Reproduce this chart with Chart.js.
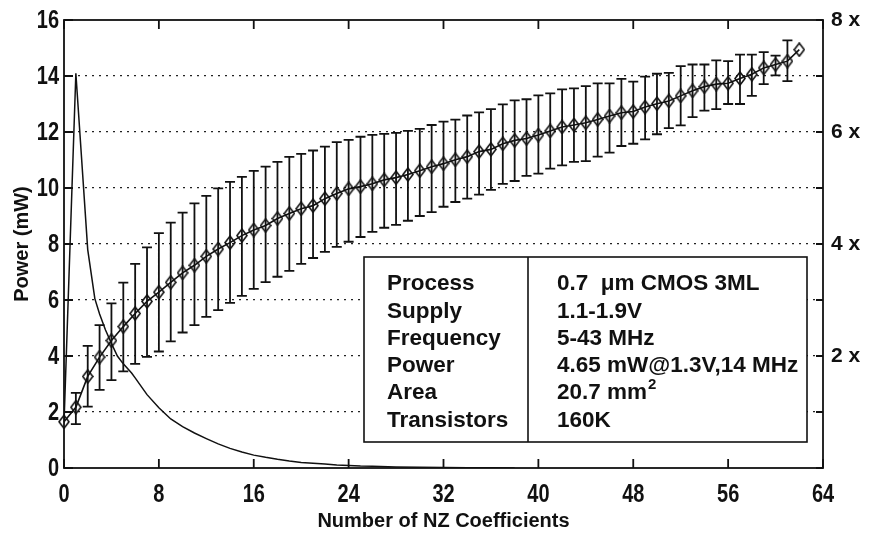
<!DOCTYPE html>
<html>
<head>
<meta charset="utf-8">
<title>Power vs number of NZ coefficients</title>
<script src="https://cdn.jsdelivr.net/npm/chart.js@4.4.1/dist/chart.umd.min.js"></script>
<style>
  html, body { margin: 0; padding: 0; background: #fff; }
  #chart { display: block; }
</style>
</head>
<body>
<canvas id="chart" width="880" height="535"></canvas>
<script>
const SANS = '"Liberation Sans", Arial, Helvetica, sans-serif';
const INK = "#111";

// number of non-zero coefficients (x of the diamond series)
const coeffCount = [
  0, 1, 2, 3, 4, 5, 6, 7, 8, 9, 10, 11, 12, 13, 14, 15, 16, 17, 18, 19, 20,
  21, 22, 23, 24, 25, 26, 27, 28, 29, 30, 31, 32, 33, 34, 35, 36, 37, 38, 39, 40,
  41, 42, 43, 44, 45, 46, 47, 48, 49, 50, 51, 52, 53, 54, 55, 56, 57, 58, 59, 60,
  61, 62,
];

// mean power (mW) and the spread shown by the error bars
const powerMean = [
  1.65, 2.17, 3.27, 3.96, 4.55, 5.05, 5.52, 5.95, 6.28, 6.63,
  6.97, 7.24, 7.56, 7.82, 8.05, 8.30, 8.50, 8.66, 8.91, 9.09,
  9.26, 9.37, 9.62, 9.80, 9.97, 10.05, 10.15, 10.29, 10.37, 10.48,
  10.62, 10.76, 10.87, 11.01, 11.12, 11.30, 11.38, 11.58, 11.70, 11.77,
  11.89, 12.04, 12.18, 12.25, 12.33, 12.45, 12.57, 12.69, 12.73, 12.89,
  13.01, 13.11, 13.29, 13.47, 13.62, 13.71, 13.74, 13.91, 14.06, 14.29,
  14.41, 14.53, 14.94,
];
const powerHigh = [
  1.65, 2.68, 4.36, 5.10, 5.88, 6.62, 7.29, 7.88, 8.39, 8.76,
  9.12, 9.45, 9.72, 9.99, 10.22, 10.40, 10.61, 10.76, 10.93, 11.11,
  11.22, 11.34, 11.48, 11.64, 11.72, 11.83, 11.90, 11.93, 11.97, 12.04,
  12.11, 12.25, 12.37, 12.44, 12.59, 12.70, 12.82, 12.99, 13.13, 13.17,
  13.31, 13.38, 13.52, 13.56, 13.64, 13.74, 13.74, 13.90, 13.80, 13.98,
  14.08, 14.11, 14.35, 14.41, 14.41, 14.56, 14.53, 14.76, 14.76, 14.85,
  14.73, 15.27, 14.94,
];
const powerLow = [
  1.65, 1.57, 2.19, 2.79, 3.14, 3.45, 3.72, 3.97, 4.16, 4.52,
  4.84, 5.10, 5.40, 5.64, 5.90, 6.15, 6.40, 6.64, 6.83, 7.04,
  7.29, 7.50, 7.72, 7.90, 8.08, 8.25, 8.43, 8.58, 8.68, 8.83,
  9.00, 9.14, 9.33, 9.50, 9.62, 9.76, 9.93, 10.15, 10.25, 10.43,
  10.51, 10.69, 10.81, 10.93, 10.96, 11.12, 11.26, 11.50, 11.58, 11.74,
  11.92, 12.14, 12.24, 12.53, 12.76, 12.82, 13.00, 13.00, 13.29, 13.71,
  14.02, 13.82, 14.94,
];

// the thin spiky curve (distribution)
const curveX = [
  0, 1, 2, 2.6, 3, 3.5, 4, 4.5, 5, 5.7, 6, 7, 8, 9, 10, 11, 12, 13, 14, 15,
  16, 17, 18, 19, 20, 21, 22, 23, 24, 25, 26, 28, 30, 32, 34, 36, 38,
];
const curveY = [
  1.6, 14.1, 7.8, 6.05, 5.5, 4.93, 4.45, 4.0, 3.72, 3.39, 3.22, 2.62, 2.15, 1.75, 1.48, 1.25, 1.05, 0.86, 0.70, 0.57,
  0.46, 0.38, 0.31, 0.25, 0.20, 0.17, 0.14, 0.11, 0.09, 0.07, 0.06, 0.04, 0.03, 0.02, 0.01, 0.005, 0,
];

// right axis labels, indexed by tick value 0..8
const rightTickLabels = ["", "", "2 x", "", "4 x", "", "6 x", "", "8 x"];

const specNames = ["Process", "Supply", "Frequency", "Power", "Area", "Transistors"];
const specValues = ["0.7  \u03bcm CMOS 3ML", "1.1-1.9V", "5-43 MHz", "4.65 mW@1.3V,14 MHz", "20.7 mm", "160K"];

function diamondImage(w, h) {
  const c = document.createElement("canvas");
  c.width = w;
  c.height = h;
  const g = c.getContext("2d");
  g.strokeStyle = INK;
  g.lineWidth = 1.6;
  g.beginPath();
  g.moveTo(w / 2, 1);
  g.lineTo(w - 1, h / 2);
  g.lineTo(w / 2, h - 1);
  g.lineTo(1, h / 2);
  g.closePath();
  g.stroke();
  return c;
}

// condensed bold text, like the narrow face on the original axes
function narrowText(ctx, text, x, y, align) {
  ctx.save();
  ctx.translate(x, y);
  ctx.scale(0.8, 1);
  ctx.textAlign = align;
  ctx.textBaseline = "middle";
  ctx.fillText(text, 0, 0);
  ctx.restore();
}

const errorBars = {
  id: "errorBars",
  afterDatasetsDraw(chart) {
    const { ctx, scales: { x, y } } = chart;
    ctx.save();
    ctx.strokeStyle = INK;
    ctx.lineWidth = 1.8;
    ctx.beginPath();
    coeffCount.forEach((n, i) => {
      if (powerHigh[i] === powerLow[i]) return;
      const px = x.getPixelForValue(n);
      const top = y.getPixelForValue(powerHigh[i]);
      const bot = y.getPixelForValue(powerLow[i]);
      ctx.moveTo(px, top);
      ctx.lineTo(px, bot);
      ctx.moveTo(px - 5, top);
      ctx.lineTo(px + 5, top);
      ctx.moveTo(px - 5, bot);
      ctx.lineTo(px + 5, bot);
    });
    ctx.stroke();
    ctx.restore();
  },
};

// spec box in the lower right of the plot
const specTable = {
  id: "specTable",
  afterDatasetsDraw(chart) {
    const { ctx } = chart;
    const box = { left: 364, top: 257, right: 807, bottom: 442, split: 528 };
    ctx.save();
    ctx.fillStyle = "#fff";
    ctx.fillRect(box.left, box.top, box.right - box.left, box.bottom - box.top);
    ctx.strokeStyle = INK;
    ctx.lineWidth = 1.6;
    ctx.strokeRect(box.left, box.top, box.right - box.left, box.bottom - box.top);
    ctx.beginPath();
    ctx.moveTo(box.split, box.top);
    ctx.lineTo(box.split, box.bottom);
    ctx.stroke();

    ctx.fillStyle = INK;
    ctx.textBaseline = "middle";
    ctx.font = "bold 22.5px " + SANS;
    specNames.forEach((name, i) => {
      const cy = 284 + i * 27.3;
      ctx.fillText(name, 387, cy);
      ctx.fillText(specValues[i], 557, cy);
      if (name === "Area") {
        const w = ctx.measureText(specValues[i]).width;
        ctx.font = "bold 15px " + SANS;
        ctx.fillText("2", 557 + w + 1, cy - 8);
        ctx.font = "bold 22.5px " + SANS;
      }
    });
    ctx.restore();
  },
};

// box round the plot, inward ticks on all four sides, narrow tick labels
const frame = {
  id: "frame",
  afterDraw(chart) {
    const { ctx, chartArea: a, scales } = chart;
    ctx.save();
    ctx.strokeStyle = INK;
    ctx.lineWidth = 1.8;
    ctx.strokeRect(a.left, a.top, a.right - a.left, a.bottom - a.top);
    ctx.beginPath();
    scales.x.ticks.forEach((t) => {
      const px = scales.x.getPixelForValue(t.value);
      ctx.moveTo(px, a.bottom);
      ctx.lineTo(px, a.bottom - 9);
      ctx.moveTo(px, a.top);
      ctx.lineTo(px, a.top + 9);
    });
    scales.y.ticks.forEach((t) => {
      const py = scales.y.getPixelForValue(t.value);
      ctx.moveTo(a.left, py);
      ctx.lineTo(a.left + 9, py);
    });
    scales.y1.ticks.forEach((t) => {
      const py = scales.y1.getPixelForValue(t.value);
      ctx.moveTo(a.right, py);
      ctx.lineTo(a.right - 7, py);
    });
    ctx.stroke();

    ctx.fillStyle = INK;
    ctx.font = "bold 25px " + SANS;
    scales.x.ticks.forEach((t) => {
      narrowText(ctx, String(t.value), scales.x.getPixelForValue(t.value), a.bottom + 27, "center");
    });
    scales.y.ticks.forEach((t) => {
      narrowText(ctx, String(t.value), a.left - 5, scales.y.getPixelForValue(t.value) + 1, "right");
    });
    ctx.restore();
  },
};

new Chart(document.getElementById("chart"), {
  type: "line",
  data: {
    datasets: [
      {
        data: curveX.map((v, i) => ({ x: v, y: curveY[i] })),
        borderColor: INK,
        borderWidth: 1.5,
        pointRadius: 0,
        tension: 0,
        yAxisID: "y",
      },
      {
        data: coeffCount.map((n, i) => ({ x: n, y: powerMean[i] })),
        borderColor: INK,
        borderWidth: 1.6,
        pointStyle: diamondImage(12, 15),
        pointRadius: 6,
        tension: 0,
        clip: false,
        yAxisID: "y",
      },
    ],
  },
  options: {
    responsive: false,
    animation: false,
    devicePixelRatio: 1,
    layout: { padding: { top: 20, left: 0, right: 0, bottom: 0 } },
    plugins: { legend: { display: false }, tooltip: { enabled: false } },
    scales: {
      x: {
        type: "linear",
        position: "bottom",
        min: 0,
        max: 64,
        ticks: { display: false, stepSize: 8, maxRotation: 0 },
        grid: { display: false },
        border: { display: false },
        title: {
          display: true,
          text: "Number of NZ Coefficients",
          color: INK,
          font: { family: SANS, size: 20, weight: "bold" },
          padding: { top: 0, bottom: 2 },
        },
        afterFit: (s) => { s.height = 67; },
      },
      y: {
        position: "left",
        min: 0,
        max: 16,
        ticks: { display: false, stepSize: 2 },
        grid: {
          drawTicks: false,
          lineWidth: 1.2,
          color: (c) => (c.tick && (c.tick.value === 0 || c.tick.value === 16) ? "rgba(0,0,0,0)" : "#222"),
        },
        border: { display: false, dash: [2, 5] },
        title: {
          display: true,
          text: "Power (mW)",
          color: INK,
          font: { family: SANS, size: 20, weight: "bold" },
          padding: { top: 10, bottom: 0 },
        },
        afterFit: (s) => { s.width = 64; },
      },
      y1: {
        position: "right",
        min: 0,
        max: 8,
        ticks: {
          stepSize: 1,
          color: INK,
          padding: 0,
          font: { family: SANS, size: 21, weight: "bold" },
          callback: (v) => rightTickLabels[v] || "",
        },
        grid: { display: false },
        border: { display: false },
        afterFit: (s) => { s.width = 57; },
      },
    },
  },
  plugins: [errorBars, specTable, frame],
});
</script>
</body>
</html>
